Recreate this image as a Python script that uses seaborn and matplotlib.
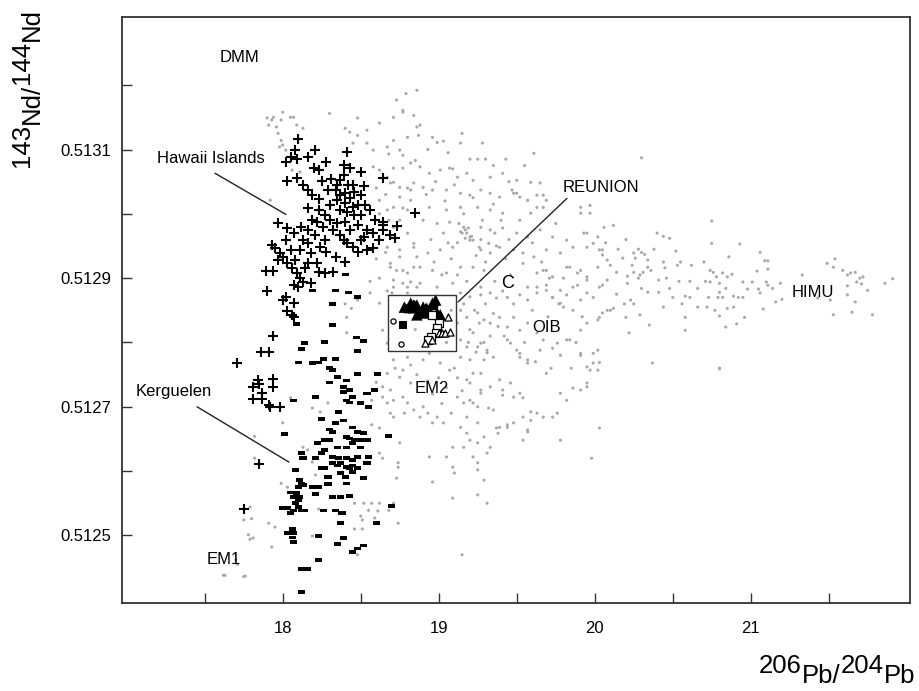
import matplotlib
matplotlib.use("Agg")
import matplotlib.pyplot as plt
from matplotlib.markers import MarkerStyle
from matplotlib.path import Path
from matplotlib.patches import Rectangle
from matplotlib.transforms import IdentityTransform
import pandas as pd
import seaborn as sns

# ---- data: (206Pb/204Pb, 143Nd/144Nd) ----
oib_pts = [
    (17.90, 0.513149), (17.94, 0.513150), (18.00, 0.513158), (18.07, 0.513150), (17.96, 0.513135),
    (17.99, 0.513114), (18.00, 0.513107), (17.93, 0.513146), (17.91, 0.513138), (17.99, 0.513146),
    (18.05, 0.513150), (18.09, 0.513138), (18.13, 0.513133), (17.97, 0.513125), (17.98, 0.513104),
    (18.02, 0.513099), (18.06, 0.513068), (18.11, 0.513065), (17.92, 0.513021), (18.30, 0.513156),
    (18.48, 0.513149), (18.40, 0.513133), (18.48, 0.513122), (18.54, 0.513110), (18.58, 0.513099),
    (18.45, 0.513110), (18.43, 0.513127), (18.54, 0.513130), (18.62, 0.513141), (18.71, 0.513150),
    (18.77, 0.513161), (18.84, 0.513153), (18.86, 0.513135), (18.80, 0.513119), (18.71, 0.513114),
    (18.67, 0.513104), (18.75, 0.513099), (18.73, 0.513177), (18.86, 0.513192), (18.79, 0.513187),
    (18.77, 0.513158), (18.88, 0.513138), (18.87, 0.513122), (18.96, 0.513119), (18.99, 0.513111),
    (19.03, 0.513113), (18.93, 0.513100), (19.14, 0.513110), (18.68, 0.513093), (18.77, 0.513091),
    (18.85, 0.513083), (18.82, 0.513079), (19.25, 0.513085), (19.30, 0.513085), (19.61, 0.513094),
    (20.30, 0.513087), (18.71, 0.513071), (18.77, 0.513071), (18.88, 0.513073), (18.94, 0.513063),
    (19.01, 0.513068), (19.07, 0.513071), (19.12, 0.513057), (19.18, 0.513063), (19.22, 0.513052),
    (19.33, 0.513057), (19.41, 0.513063), (19.50, 0.513052), (19.59, 0.513049), (19.65, 0.513048),
    (18.69, 0.513048), (18.75, 0.513041), (18.82, 0.513037), (18.90, 0.513041), (18.96, 0.513037),
    (19.05, 0.513037), (19.14, 0.513032), (19.20, 0.513029), (19.27, 0.513037), (19.33, 0.513032),
    (19.39, 0.513026), (19.48, 0.513032), (19.52, 0.513026), (19.57, 0.513021), (19.63, 0.513029),
    (19.69, 0.513021), (18.77, 0.513009), (18.94, 0.513010), (19.05, 0.513006), (19.14, 0.513010),
    (19.25, 0.513010), (19.33, 0.513006), (19.41, 0.513001), (19.59, 0.513001), (19.67, 0.513010),
    (19.91, 0.513010), (19.97, 0.513013), (20.12, 0.512982), (18.90, 0.512990), (18.99, 0.512985),
    (19.07, 0.512987), (19.16, 0.512979), (19.18, 0.512970), (19.20, 0.512964), (19.22, 0.512959),
    (19.17, 0.512962), (19.14, 0.512972), (19.19, 0.512978), (19.27, 0.512979), (19.33, 0.512975),
    (19.41, 0.512978), (19.50, 0.512970), (19.57, 0.512964), (19.65, 0.512975), (19.73, 0.512964),
    (19.82, 0.512959), (19.95, 0.512970), (20.02, 0.512964), (18.67, 0.512948), (18.75, 0.512944),
    (18.84, 0.512948), (18.93, 0.512939), (19.01, 0.512944), (19.09, 0.512948), (19.27, 0.512944),
    (19.33, 0.512939), (19.39, 0.512948), (19.48, 0.512944), (19.54, 0.512939), (19.61, 0.512933),
    (19.69, 0.512944), (19.78, 0.512939), (19.86, 0.512948), (19.95, 0.512948), (20.03, 0.512944),
    (20.08, 0.512928), (18.69, 0.512917), (18.77, 0.512912), (18.88, 0.512917), (18.96, 0.512912),
    (19.05, 0.512908), (19.14, 0.512917), (19.22, 0.512917), (19.29, 0.512912), (19.54, 0.512923),
    (19.63, 0.512908), (19.69, 0.512912), (19.73, 0.512902), (19.82, 0.512917), (19.89, 0.512908),
    (19.95, 0.512902), (20.02, 0.512917), (20.08, 0.512897), (18.71, 0.512886), (18.80, 0.512886),
    (18.88, 0.512892), (18.99, 0.512886), (19.09, 0.512892), (19.27, 0.512886), (19.33, 0.512877),
    (19.57, 0.512886), (19.63, 0.512877), (19.69, 0.512889), (19.78, 0.512881), (19.86, 0.512886),
    (19.95, 0.512877), (20.03, 0.512886), (18.58, 0.513073), (18.62, 0.513068), (18.67, 0.513057),
    (18.71, 0.513049), (18.80, 0.513040), (18.84, 0.513048), (18.75, 0.513026), (18.82, 0.513021),
    (18.71, 0.513010), (18.80, 0.513006), (18.67, 0.513006), (18.62, 0.513021), (18.75, 0.512990),
    (18.71, 0.512979), (18.80, 0.512970), (18.84, 0.512954), (18.86, 0.512933), (18.75, 0.512933),
    (18.69, 0.512923), (18.73, 0.512912), (18.80, 0.512908), (18.84, 0.512917), (18.71, 0.512897),
    (18.77, 0.512892), (18.82, 0.512894), (18.86, 0.512886), (18.70, 0.512877), (18.80, 0.512877),
    (19.14, 0.512877), (19.20, 0.512871), (19.27, 0.512874), (19.37, 0.512869), (19.44, 0.512870),
    (19.52, 0.512874), (19.57, 0.512866), (19.73, 0.512870), (19.78, 0.512861), (19.82, 0.512874),
    (19.91, 0.512866), (19.99, 0.512870), (20.10, 0.512850), (20.05, 0.512846), (19.14, 0.512850),
    (19.18, 0.512839), (19.25, 0.512846), (19.29, 0.512835), (19.33, 0.512830), (19.39, 0.512839),
    (19.44, 0.512824), (19.52, 0.512819), (19.48, 0.512839), (19.57, 0.512830), (19.63, 0.512815),
    (19.67, 0.512804), (19.73, 0.512791), (19.82, 0.512804), (19.91, 0.512819), (19.95, 0.512830),
    (20.02, 0.512835), (19.14, 0.512804), (19.18, 0.512793), (19.22, 0.512815), (19.27, 0.512799),
    (19.31, 0.512784), (19.35, 0.512777), (19.29, 0.512773), (19.14, 0.512777), (19.20, 0.512773),
    (19.44, 0.512804), (19.50, 0.512788), (19.52, 0.512777), (19.57, 0.512773), (19.65, 0.512788),
    (19.91, 0.512783), (19.99, 0.512783), (20.03, 0.512769), (19.95, 0.512762), (19.97, 0.512757),
    (18.71, 0.512773), (18.80, 0.512777), (18.90, 0.512773), (19.01, 0.512768), (19.07, 0.512757),
    (18.94, 0.512783), (18.67, 0.512752), (18.75, 0.512746), (18.82, 0.512737), (18.69, 0.512726),
    (18.77, 0.512715), (18.67, 0.512706), (18.80, 0.512706), (18.84, 0.512695), (18.78, 0.512690),
    (18.88, 0.512684), (18.93, 0.512690), (18.99, 0.512684), (18.96, 0.512675), (19.03, 0.512675),
    (19.12, 0.512715), (19.16, 0.512706), (19.20, 0.512710), (19.25, 0.512700), (19.27, 0.512721),
    (19.32, 0.512698), (19.20, 0.512737), (19.27, 0.512726), (19.33, 0.512731), (19.41, 0.512726),
    (19.48, 0.512715), (19.52, 0.512721), (19.39, 0.512668), (19.44, 0.512668), (19.48, 0.512675),
    (19.54, 0.512684), (19.59, 0.512679), (19.63, 0.512690), (19.73, 0.512684), (19.78, 0.512648),
    (19.78, 0.512721), (19.82, 0.512710), (19.91, 0.512726), (19.95, 0.512731), (20.02, 0.512757),
    (19.57, 0.512664), (19.14, 0.512668), (19.18, 0.512659), (19.09, 0.512637), (19.16, 0.512637),
    (19.25, 0.512644), (19.29, 0.512653), (19.33, 0.512637), (19.31, 0.512628), (18.94, 0.512622),
    (19.05, 0.512622), (19.09, 0.512606), (19.10, 0.512597), (18.75, 0.512644), (18.74, 0.512613),
    (18.74, 0.512606), (18.73, 0.512589), (19.22, 0.512622), (19.25, 0.512613), (19.25, 0.512602),
    (18.96, 0.512583), (19.25, 0.512563), (19.31, 0.512550), (19.09, 0.512558), (19.98, 0.512620),
    (20.03, 0.512667), (18.64, 0.512715), (18.69, 0.512690), (19.25, 0.512793), (19.31, 0.512788),
    (19.46, 0.512799), (19.52, 0.512783), (19.57, 0.512768), (19.69, 0.512752), (19.76, 0.512799),
    (19.84, 0.512804), (19.91, 0.512780), (19.99, 0.512768), (20.02, 0.512788), (20.37, 0.512768),
    (20.80, 0.512759), (19.22, 0.512752), (19.27, 0.512752), (19.18, 0.512742), (19.39, 0.512742),
    (19.46, 0.512737), (19.41, 0.512718), (19.54, 0.512714), (19.22, 0.512706), (19.35, 0.512695),
    (19.18, 0.512684), (19.25, 0.512675), (19.86, 0.512729), (19.95, 0.512737), (19.59, 0.512692),
    (19.67, 0.512684), (19.76, 0.512690), (19.44, 0.512672), (19.37, 0.512667), (19.38, 0.512659),
    (19.54, 0.512648), (19.57, 0.512661), (19.20, 0.512648), (19.29, 0.512586), (19.15, 0.512470),
    (20.40, 0.512970), (20.44, 0.512965), (20.48, 0.512962), (20.75, 0.512989), (20.75, 0.512954),
    (20.93, 0.512953), (20.52, 0.512942), (20.07, 0.512955), (20.05, 0.512944), (20.05, 0.512936),
    (20.25, 0.512939), (20.28, 0.512945), (20.30, 0.512940), (20.32, 0.512937), (20.26, 0.512931),
    (20.24, 0.512920), (20.34, 0.512928), (20.34, 0.512917), (20.36, 0.512912), (20.31, 0.512909),
    (20.29, 0.512905), (20.25, 0.512909), (20.21, 0.512903), (20.21, 0.512892), (20.28, 0.512900),
    (20.30, 0.512884), (20.34, 0.512878), (20.41, 0.512897), (20.41, 0.512878), (20.44, 0.512925),
    (20.45, 0.512916), (20.55, 0.512925), (20.53, 0.512920), (20.48, 0.512884), (20.10, 0.512920),
    (20.14, 0.512909), (20.18, 0.512931), (20.05, 0.512889), (20.08, 0.512850), (20.12, 0.512853),
    (20.03, 0.512839), (20.23, 0.512866), (20.25, 0.512860), (20.20, 0.512839), (20.22, 0.512815),
    (20.29, 0.512843), (20.35, 0.512827), (20.56, 0.512860), (20.58, 0.512872), (20.61, 0.512870),
    (20.58, 0.512839), (20.58, 0.512819), (20.61, 0.512895), (20.66, 0.512884), (20.71, 0.512895),
    (20.74, 0.512894), (20.76, 0.512909), (20.74, 0.512912), (20.78, 0.512902), (20.80, 0.512892),
    (20.82, 0.512908), (20.85, 0.512902), (20.88, 0.512906), (20.86, 0.512933), (20.73, 0.512870),
    (20.79, 0.512870), (20.82, 0.512870), (20.80, 0.512878), (20.84, 0.512884), (20.89, 0.512872),
    (20.92, 0.512870), (20.95, 0.512870), (20.98, 0.512883), (20.95, 0.512894), (21.01, 0.512894),
    (21.04, 0.512911), (21.06, 0.512940), (21.09, 0.512927), (21.11, 0.512927), (21.11, 0.512914),
    (21.05, 0.512883), (21.06, 0.512877), (21.10, 0.512894), (21.11, 0.512889), (21.14, 0.512884),
    (21.19, 0.512892), (21.16, 0.512863), (21.20, 0.512867), (21.08, 0.512852), (20.96, 0.512839),
    (20.91, 0.512829), (20.84, 0.512824), (20.89, 0.512855), (20.85, 0.512853), (20.77, 0.512850),
    (20.72, 0.512855), (20.80, 0.512841), (20.80, 0.512760), (21.33, 0.512905), (21.43, 0.512869),
    (21.51, 0.512866), (21.49, 0.512923), (21.54, 0.512930), (21.53, 0.512917), (21.59, 0.512912),
    (21.62, 0.512905), (21.64, 0.512908), (21.67, 0.512909), (21.70, 0.512900), (21.68, 0.512894),
    (21.72, 0.512902), (21.62, 0.512888), (21.71, 0.512891), (21.75, 0.512881), (21.86, 0.512892),
    (21.91, 0.512899), (21.62, 0.512874), (21.67, 0.512863), (21.65, 0.512847), (21.53, 0.512843),
    (21.78, 0.512843), (19.47, 0.513037), (19.50, 0.513032), (19.57, 0.513021), (19.63, 0.513010),
    (19.67, 0.513029), (19.15, 0.512970), (19.17, 0.512975), (19.20, 0.512959), (19.26, 0.512948),
    (19.32, 0.512954), (19.36, 0.512970), (19.91, 0.513001), (19.97, 0.513001), (19.93, 0.512970),
    (19.99, 0.512954), (20.06, 0.512979), (19.84, 0.512917), (19.91, 0.512912), (19.95, 0.512897),
    (19.89, 0.512889), (19.67, 0.512912), (19.71, 0.512900), (19.63, 0.512886), (19.69, 0.512881),
    (19.73, 0.512870), (19.77, 0.512860), (19.80, 0.512855), (17.82, 0.512620), (17.79, 0.512544),
    (17.75, 0.512524), (17.80, 0.512526), (17.91, 0.512519), (17.95, 0.512513), (17.78, 0.512501),
    (17.81, 0.512496), (17.79, 0.512494), (17.93, 0.512482), (17.71, 0.512455), (17.63, 0.512438),
    (17.76, 0.512437), (17.99, 0.512581), (18.03, 0.512575), (18.19, 0.512614), (18.21, 0.512594),
    (18.23, 0.512541), (18.19, 0.512499), (18.46, 0.512550), (18.52, 0.512550), (18.57, 0.512550),
    (18.62, 0.512550), (18.55, 0.512539), (18.61, 0.512538), (18.50, 0.512530), (18.51, 0.512524),
    (18.46, 0.512510), (18.51, 0.512510), (18.48, 0.512470), (18.59, 0.512527), (18.68, 0.512539),
    (18.71, 0.512550), (18.62, 0.512628), (18.64, 0.512620), (18.74, 0.512519), (17.82, 0.512654),
    (18.19, 0.512698), (18.24, 0.512692), (18.05, 0.512714), (18.77, 0.512757), (18.82, 0.512765),
    (18.40, 0.512860), (18.44, 0.512853), (18.48, 0.512866), (18.41, 0.512839), (18.62, 0.512861),
    (18.56, 0.512877), (18.64, 0.512819), (18.67, 0.512799), (18.41, 0.512815), (18.60, 0.512738),
    (18.60, 0.512726), (18.64, 0.512731), (18.57, 0.512710), (18.71, 0.512710), (18.57, 0.512672),
    (18.62, 0.512667), (18.71, 0.512684), (18.00, 0.512675), (18.13, 0.512637), (18.16, 0.512633),
    (18.29, 0.512706), (17.62, 0.512438), (17.75, 0.512436), (17.70, 0.512462),
    (18.92, 0.512860), (18.98, 0.512840), (19.05, 0.512800), (18.85, 0.512820), (19.08, 0.512850),
    # denser core of the OIB field
    (18.92, 0.513030), (18.98, 0.513050), (19.04, 0.513020), (19.10, 0.513045), (19.16, 0.513000),
    (19.22, 0.513025), (19.28, 0.512990), (19.35, 0.513015), (19.40, 0.512990), (19.45, 0.513050),
    (18.95, 0.512960), (19.03, 0.512970), (19.08, 0.512930), (19.12, 0.512955), (19.24, 0.512935),
    (19.30, 0.512925), (19.37, 0.512950), (19.43, 0.512930), (19.46, 0.512905), (19.41, 0.512880),
    (19.36, 0.512895), (19.18, 0.512895), (19.12, 0.512905), (19.02, 0.512905), (18.97, 0.512925),
    (19.06, 0.512955), (19.21, 0.512965), (19.27, 0.512960), (19.13, 0.512985), (19.09, 0.513070),
    (19.20, 0.513085), (19.35, 0.513075), (19.43, 0.513085), (19.55, 0.513075), (19.06, 0.513095),
    (19.15, 0.513125), (19.28, 0.513110), (19.45, 0.512960), (19.52, 0.512990), (19.60, 0.512955),
    (19.66, 0.512925), (19.75, 0.512985), (19.80, 0.512900), (19.86, 0.512850), (19.92, 0.512840),
    (19.70, 0.512840), (19.60, 0.512850), (19.48, 0.512860), (19.42, 0.512810), (19.55, 0.512800),
    (19.62, 0.512770), (19.72, 0.512760), (19.78, 0.512780), (19.85, 0.512760), (19.88, 0.512800),
    (18.72, 0.512760), (18.86, 0.512750), (18.93, 0.512740), (19.00, 0.512745), (19.05, 0.512730),
    (19.10, 0.512760), (18.96, 0.512720), (19.02, 0.512705), (19.08, 0.512690), (18.90, 0.512700),
    (19.12, 0.512745), (19.15, 0.512725), (19.12, 0.512830), (19.16, 0.512860), (19.20, 0.512820),
    (19.23, 0.512850), (19.26, 0.512830), (19.30, 0.512860), (19.33, 0.512810), (19.35, 0.512845),
    (19.38, 0.512825), (19.19, 0.512800), (19.24, 0.512785), (19.29, 0.512800), (18.60, 0.513040),
    (18.66, 0.513030), (18.62, 0.513000), (18.68, 0.512990), (18.60, 0.512930), (18.66, 0.512940),
    (18.62, 0.512900), (18.67, 0.512880), (18.56, 0.512895), (20.15, 0.512945), (20.20, 0.512960),
    (20.38, 0.512945), (20.46, 0.512900), (20.50, 0.512870), (20.54, 0.512895), (20.62, 0.512920),
    (20.66, 0.512855), (20.70, 0.512925), (20.14, 0.512875), (20.19, 0.512860), (20.44, 0.512855),
]

hawaii_pts = [
    (18.10, 0.513116), (18.08, 0.513100), (18.21, 0.513099), (18.41, 0.513096), (18.05, 0.513088),
    (18.09, 0.513085), (18.02, 0.513080), (18.16, 0.513088), (18.28, 0.513080), (18.39, 0.513076),
    (18.20, 0.513071), (18.23, 0.513068), (18.43, 0.513071), (18.50, 0.513065), (18.03, 0.513051),
    (18.09, 0.513055), (18.13, 0.513045), (18.16, 0.513037), (18.19, 0.513029), (18.25, 0.513051),
    (18.31, 0.513054), (18.64, 0.513055), (18.37, 0.513052), (18.42, 0.513045), (18.52, 0.513043),
    (18.34, 0.513037), (18.37, 0.513029), (18.40, 0.513032), (18.43, 0.513024), (18.46, 0.513034),
    (18.40, 0.513017), (18.45, 0.513010), (18.37, 0.513006), (18.48, 0.513013), (18.41, 0.513003),
    (18.46, 0.512998), (18.35, 0.513021), (18.50, 0.513029), (18.30, 0.513013), (18.23, 0.513023),
    (18.16, 0.513009), (18.85, 0.513001), (17.97, 0.512985), (18.03, 0.512978), (18.07, 0.512970),
    (18.12, 0.512979), (18.16, 0.512975), (18.22, 0.512987), (18.26, 0.512979), (18.30, 0.512990),
    (18.35, 0.512985), (18.64, 0.512982), (18.73, 0.512981), (18.72, 0.512962), (18.54, 0.512975),
    (18.58, 0.512970), (18.52, 0.512964), (18.39, 0.512959), (18.41, 0.512954), (18.45, 0.512948),
    (17.93, 0.512951), (17.95, 0.512947), (17.98, 0.512939), (18.00, 0.512933), (18.13, 0.512959),
    (18.16, 0.512954), (18.18, 0.512939), (18.24, 0.512948), (18.28, 0.512940), (18.34, 0.512933),
    (18.48, 0.512940), (18.54, 0.512944), (18.58, 0.512947), (17.89, 0.512911), (17.94, 0.512911),
    (18.03, 0.512923), (18.06, 0.512916), (18.09, 0.512908), (18.11, 0.512900), (18.13, 0.512894),
    (18.16, 0.512923), (18.22, 0.512923), (18.23, 0.512909), (18.27, 0.512908), (18.32, 0.512909),
    (18.07, 0.512889), (18.10, 0.512886), (18.18, 0.512892), (17.90, 0.512880), (18.02, 0.512871),
    (18.00, 0.512866), (18.07, 0.512861), (18.03, 0.512849), (18.06, 0.512843), (18.07, 0.512839),
    (17.94, 0.512810), (17.86, 0.512785), (17.91, 0.512785), (17.71, 0.512768), (17.84, 0.512742),
    (17.94, 0.512743), (17.81, 0.512731), (17.85, 0.512735), (17.94, 0.512731), (17.87, 0.512721),
    (17.81, 0.512712), (17.87, 0.512712), (17.91, 0.512703), (17.92, 0.512700), (17.98, 0.512700),
    (17.85, 0.512611), (17.75, 0.512541), (18.64, 0.512987), (18.64, 0.512975), (18.32, 0.512975),
    (18.37, 0.512967), (18.43, 0.512975), (18.48, 0.512982), (18.40, 0.512987), (18.50, 0.512998),
    (18.53, 0.513013), (18.45, 0.513045), (18.39, 0.513060), (18.35, 0.513045), (18.29, 0.513037),
    (18.27, 0.512998), (18.23, 0.513006), (18.19, 0.512990), (18.11, 0.512944), (18.08, 0.512928),
    (18.05, 0.512944), (18.02, 0.512959), (17.97, 0.512928), (18.14, 0.512916), (18.40, 0.512925),
    (18.50, 0.512959), (18.59, 0.512990), (18.56, 0.513006), (18.62, 0.512959), (18.69, 0.512967),
    (18.27, 0.512959), (18.21, 0.512967),
]

kerguelen_pts = [
    (18.40, 0.512906), (18.19, 0.512881), (18.34, 0.512881), (18.42, 0.512878), (18.48, 0.512871),
    (18.32, 0.512860), (18.09, 0.512829), (18.32, 0.512827), (18.47, 0.512808), (18.52, 0.512802),
    (18.14, 0.512799), (18.27, 0.512801), (18.48, 0.512787), (18.12, 0.512790), (18.10, 0.512769),
    (18.19, 0.512768), (18.23, 0.512769), (18.26, 0.512774), (18.34, 0.512774), (18.30, 0.512760),
    (18.32, 0.512757), (18.48, 0.512751), (18.61, 0.512751), (18.30, 0.512738), (18.35, 0.512746),
    (18.41, 0.512741), (18.39, 0.512731), (18.43, 0.512726), (18.39, 0.512723), (18.41, 0.512710),
    (18.43, 0.512707), (18.45, 0.512715), (18.50, 0.512706), (18.55, 0.512700), (18.54, 0.512721),
    (18.59, 0.512726), (18.21, 0.512715), (18.07, 0.512710), (18.36, 0.512692), (18.25, 0.512681),
    (18.34, 0.512675), (18.39, 0.512679), (18.30, 0.512665), (18.32, 0.512661), (18.45, 0.512668),
    (18.48, 0.512661), (18.52, 0.512659), (18.01, 0.512658), (18.68, 0.512655), (18.41, 0.512653),
    (18.43, 0.512651), (18.46, 0.512648), (18.50, 0.512648), (18.54, 0.512648), (18.22, 0.512644),
    (18.27, 0.512648), (18.30, 0.512648), (18.35, 0.512637), (18.41, 0.512637), (18.45, 0.512644),
    (18.50, 0.512637), (18.12, 0.512628), (18.13, 0.512620), (18.21, 0.512620), (18.25, 0.512628),
    (18.27, 0.512633), (18.32, 0.512622), (18.36, 0.512620), (18.41, 0.512620), (18.45, 0.512617),
    (18.48, 0.512622), (18.55, 0.512622), (18.32, 0.512613), (18.35, 0.512609), (18.37, 0.512613),
    (18.41, 0.512606), (18.43, 0.512605), (18.45, 0.512609), (18.48, 0.512605), (18.54, 0.512613),
    (18.08, 0.512602), (18.25, 0.512605), (18.27, 0.512605), (18.37, 0.512597), (18.40, 0.512591),
    (18.45, 0.512599), (18.52, 0.512589), (18.29, 0.512591), (18.41, 0.512581), (18.11, 0.512586),
    (18.12, 0.512581), (18.10, 0.512575), (18.13, 0.512578), (18.09, 0.512566), (18.11, 0.512560),
    (18.10, 0.512555), (18.08, 0.512550), (18.10, 0.512544), (18.07, 0.512539), (18.05, 0.512567),
    (18.07, 0.512560), (18.19, 0.512575), (18.21, 0.512564), (18.23, 0.512575), (18.29, 0.512580),
    (18.32, 0.512560), (18.37, 0.512560), (18.43, 0.512561), (18.00, 0.512543), (18.03, 0.512543),
    (18.05, 0.512535), (18.12, 0.512539), (18.14, 0.512539), (18.26, 0.512539), (18.34, 0.512539),
    (18.38, 0.512535), (18.70, 0.512546), (18.60, 0.512519), (18.37, 0.512519), (18.06, 0.512510),
    (18.07, 0.512504), (18.03, 0.512504), (18.06, 0.512497), (18.07, 0.512490), (18.23, 0.512499),
    (18.35, 0.512487), (18.39, 0.512496), (18.45, 0.512474), (18.48, 0.512480), (18.52, 0.512484),
    (18.23, 0.512462), (18.12, 0.512448), (18.16, 0.512448), (18.12, 0.512412),
]

reunion_filled_tri = [
    (18.78, 0.512855), (18.82, 0.512861), (18.84, 0.512854), (18.86, 0.512858), (18.90, 0.512855),
    (18.91, 0.512847), (18.93, 0.512850), (18.96, 0.512861), (18.98, 0.512866), (18.95, 0.512846),
    (18.88, 0.512846), (18.86, 0.512843), (18.99, 0.512846), (19.01, 0.512843),
]
reunion_filled_pent = [(18.80, 0.512852), (18.84, 0.512858), (18.92, 0.512852), (18.97, 0.512857)]
reunion_filled_sq = [(18.77, 0.512827)]
reunion_open_circ = [(18.71, 0.512833), (18.76, 0.512798)]
reunion_open_sq = [
    (18.96, 0.512843), (19.00, 0.512830), (18.99, 0.512822), (18.98, 0.512815), (18.95, 0.512808),
    (18.93, 0.512804),
]
reunion_open_tri = [
    (19.06, 0.512839), (19.00, 0.512815), (19.02, 0.512815), (19.04, 0.512815), (19.07, 0.512816),
    (18.96, 0.512804), (18.91, 0.512799),
]
reunion_box = (18.675, 0.512787, 19.11, 0.512874)

# end-member / group labels and leader lines
labels = ["DMM", "Hawaii Islands", "Kerguelen", "REUNION", "C", "OIB", "HIMU", "EM2", "EM1"]
label_x = [17.723, 17.537, 17.300, 20.040, 19.441, 19.694, 21.40, 18.954, 17.620]
label_y = [0.513243, 0.513086, 0.512723, 0.513041, 0.512892, 0.512824, 0.512878, 0.512728, 0.512462]
leaders = {
    "Hawaii Islands": ([17.566, 18.021], [0.513063, 0.512999]),
    "Kerguelen": ([17.451, 18.040], [0.512700, 0.512614]),
    "REUNION": ([19.822, 19.124], [0.513024, 0.512863]),
}


def to_df(pts):
    return pd.DataFrame(pts, columns=["pb", "nd"])


def stacked_label(fig, pieces, x0, y0, vertical=False, size=18.5):
    """Write a label piece by piece with raised mass numbers (pixel coordinates)."""
    renderer = fig.canvas.get_renderer()
    pos = 0.0
    for s, shift in pieces:
        if vertical:
            t = fig.text(x0 - shift, y0 + pos, s, rotation=90, rotation_mode="anchor",
                         ha="left", va="baseline", fontsize=size, color="black",
                         transform=IdentityTransform())
            pos += t.get_window_extent(renderer).height
        else:
            t = fig.text(x0 + pos, y0 + shift, s, ha="left", va="baseline", color="black",
                         fontsize=size, transform=IdentityTransform())
            pos += t.get_window_extent(renderer).width


sns.set_style("ticks")
plt.rcParams["font.family"] = ["Liberation Sans", "DejaVu Sans"]
plt.rcParams["text.color"] = "black"

fig = plt.figure(figsize=(9.19, 6.91), dpi=100)
ax = fig.add_axes([0.1328, 0.1274, 0.8574, 0.848])

sns.scatterplot(data=to_df(oib_pts), x="pb", y="nd", color="#a8a8a8", s=5,
                linewidth=0, edgecolor="none", ax=ax, legend=False, zorder=1)

dash = MarkerStyle(Path([(-1, -0.5), (1, -0.5), (1, 0.5), (-1, 0.5), (-1, -0.5)], closed=True))
sns.scatterplot(data=to_df(kerguelen_pts), x="pb", y="nd", marker=dash, color="black", s=26,
                linewidth=0, edgecolor="none", ax=ax, legend=False, zorder=2)
sns.scatterplot(data=to_df(hawaii_pts), x="pb", y="nd", marker="+", color="black", s=48,
                linewidth=1.5, ax=ax, legend=False, zorder=3)

sns.scatterplot(data=to_df(reunion_filled_tri), x="pb", y="nd", marker="^", color="black", s=70,
                linewidth=0, edgecolor="none", ax=ax, legend=False, zorder=4)
sns.scatterplot(data=to_df(reunion_filled_pent), x="pb", y="nd", marker="p", color="black", s=60,
                linewidth=0, edgecolor="none", ax=ax, legend=False, zorder=4)
sns.scatterplot(data=to_df(reunion_filled_sq), x="pb", y="nd", marker="s", color="black", s=34,
                linewidth=0, edgecolor="none", ax=ax, legend=False, zorder=4)
sns.scatterplot(data=to_df(reunion_open_sq), x="pb", y="nd", marker="s", facecolor="white",
                edgecolor="black", s=34, linewidth=0.9, ax=ax, legend=False, zorder=5)
sns.scatterplot(data=to_df(reunion_open_tri), x="pb", y="nd", marker="^", facecolor="white",
                edgecolor="black", s=26, linewidth=0.9, ax=ax, legend=False, zorder=5)
sns.scatterplot(data=to_df(reunion_open_circ), x="pb", y="nd", marker="o", facecolor="white",
                edgecolor="black", s=14, linewidth=0.9, ax=ax, legend=False, zorder=5)

x0, y0, x1, y1 = reunion_box
ax.add_patch(Rectangle((x0, y0), x1 - x0, y1 - y0, fill=False, edgecolor="#333333",
                       linewidth=1.0, zorder=6))

for name, xs, ys in zip(labels, label_x, label_y):
    ax.text(xs, ys, name, ha="center", va="center", color="black",
            fontsize=13 if name == "C" else 12, zorder=7)
for name, (lx, ly) in leaders.items():
    ax.plot(lx, ly, color="#222222", linewidth=1.0, zorder=6)

ax.set_xlim(16.970, 22.021)
ax.set_ylim(0.512395, 0.513306)
ax.set_xticks([18, 19, 20, 21])
ax.set_xticks([17.5, 18.5, 19.5, 20.5, 21.5], minor=True)
ax.set_yticks([0.5125, 0.5127, 0.5129, 0.5131])
ax.set_yticks([0.5126, 0.5128, 0.5130, 0.5132], minor=True)
ax.set_yticklabels(["0.5125", "0.5127", "0.5129", "0.5131"])
ax.set_xticklabels(["18", "19", "20", "21"])
ax.tick_params(axis="both", which="both", direction="in", length=7, width=1.0, color="#333333",
               labelsize=12, labelcolor="black")
ax.tick_params(axis="x", which="both", pad=13)
ax.tick_params(axis="y", which="both", pad=8)
ax.set_xlabel("")
ax.set_ylabel("")
for sp in ax.spines.values():
    sp.set_visible(True)
    sp.set_color("#333333")
    sp.set_linewidth(1.3)

# axis titles with raised mass numbers, as in the original figure
stacked_label(fig, [("206", 10), ("Pb/", 0), ("204", 10), ("Pb", 0)], 759, 8)
stacked_label(fig, [("143", 10), ("Nd/", 0), ("144", 10), ("Nd", 0)], 39, 524, vertical=True)

fig.savefig("out.png", dpi=100)
